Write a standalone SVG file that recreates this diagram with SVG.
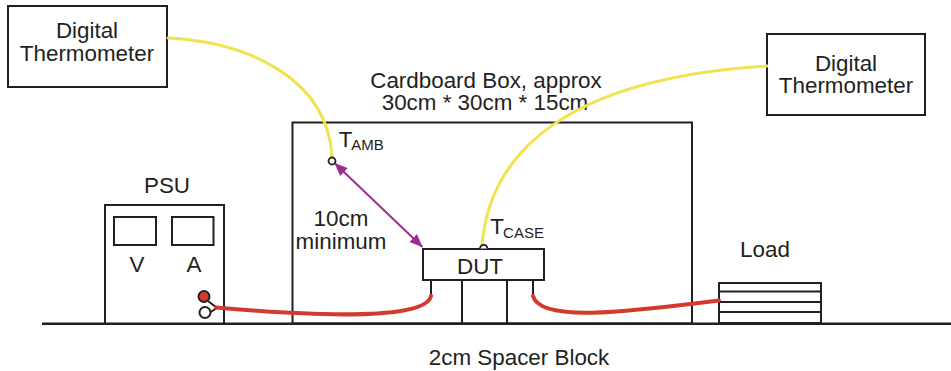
<svg xmlns="http://www.w3.org/2000/svg" width="951" height="371" viewBox="0 0 951 371">
<style>
text{font-family:"Liberation Sans",Arial,sans-serif;font-size:22.4px;fill:#231f20;text-anchor:middle}
text.sub{font-size:15px}
.box{fill:#fff;stroke:#231f20;stroke-width:2}
.ln{fill:none;stroke:#231f20;stroke-width:2}
.y{fill:none;stroke:#f1e34f;stroke-width:3;stroke-linecap:round}
.r{fill:none;stroke:#d33a2c;stroke-width:4;stroke-linecap:round}
.p{stroke:#9a2f8f;stroke-width:2;fill:none;marker-start:url(#as);marker-end:url(#ae)}
</style>
<defs>
<marker id="ae" markerUnits="userSpaceOnUse" markerWidth="14" markerHeight="12" refX="13" refY="5.5" orient="auto"><path d="M0 0L13 5.500L0 11Z" fill="#9a2f8f"/></marker>
<marker id="as" markerUnits="userSpaceOnUse" markerWidth="14" markerHeight="12" refX="0" refY="5.5" orient="auto"><path d="M13 0L0 5.500L13 11Z" fill="#9a2f8f"/></marker>
</defs>
<g id="box"><rect class="box" x="292.500" y="122.500" width="399.500" height="201"/></g>
<g id="ground"><path d="M42 323.800H951" stroke="#231f20" stroke-width="2.600" fill="none"/></g>
<g id="thermometer-left"><rect class="box" x="8" y="6" width="159" height="81"/><text x="87" y="38">Digital</text><text x="87" y="61">Thermometer</text></g>
<g id="thermometer-right"><rect class="box" x="767" y="34" width="158" height="81"/><text x="846" y="71">Digital</text><text x="846" y="93">Thermometer</text></g>
<g id="box-label"><text x="486" y="88">Cardboard Box, approx</text><text x="485" y="110">30cm * 30cm * 15cm</text></g>
<g id="psu"><rect class="box" x="105" y="205" width="119" height="118.500"/><rect class="box" x="114" y="217" width="42" height="28"/><rect class="box" x="172" y="217" width="41.500" height="28"/><text x="167" y="193">PSU</text><text x="137" y="272">V</text><text x="194" y="272">A</text>
<path class="ln" d="M208 301L217 308L209 313"/><circle cx="204" cy="296.500" r="5.500" fill="#d33a2c" stroke="#231f20" stroke-width="2"/><circle cx="205" cy="312.500" r="5.500" fill="#fff" stroke="#231f20" stroke-width="2"/></g>
<g id="dut"><path class="ln" d="M431 280V296M462 280V323M507 280V323M533 280V296"/><rect class="box" x="423" y="249" width="121" height="31"/><text x="480" y="274">DUT</text></g>
<g id="load"><rect class="box" x="719" y="283" width="102" height="40"/><path class="ln" d="M719 291.500H821M719 302H821M719 312H821"/><text x="765" y="257">Load</text></g>
<g id="connectors">
<path class="y" d="M168 38C250 42 328 80 332 157"/>
<path class="y" d="M482 245C490 150 570 78 767 66"/>
<path class="r" d="M216 307.500C300 315 425 322 431 296"/>
<path class="r" d="M533 296C540 322 620 313 719 300.500"/>
<path class="p" d="M334.500 163L422.500 247"/>
</g>
<g id="probes"><circle cx="332" cy="161" r="3.500" fill="#fff" stroke="#231f20" stroke-width="1.800"/><path d="M480 248.500a3.700 3.700 0 0 1 7.400 0" fill="#fff" stroke="#231f20" stroke-width="1.800"/></g>
<g id="labels"><text x="345.500" y="147">T</text><text class="sub" x="367.500" y="150">AMB</text><text x="497" y="234">T</text><text class="sub" x="523.500" y="238">CASE</text><text x="341" y="226">10cm</text><text x="341" y="249">minimum</text><text x="519" y="365">2cm Spacer Block</text></g>
</svg>
